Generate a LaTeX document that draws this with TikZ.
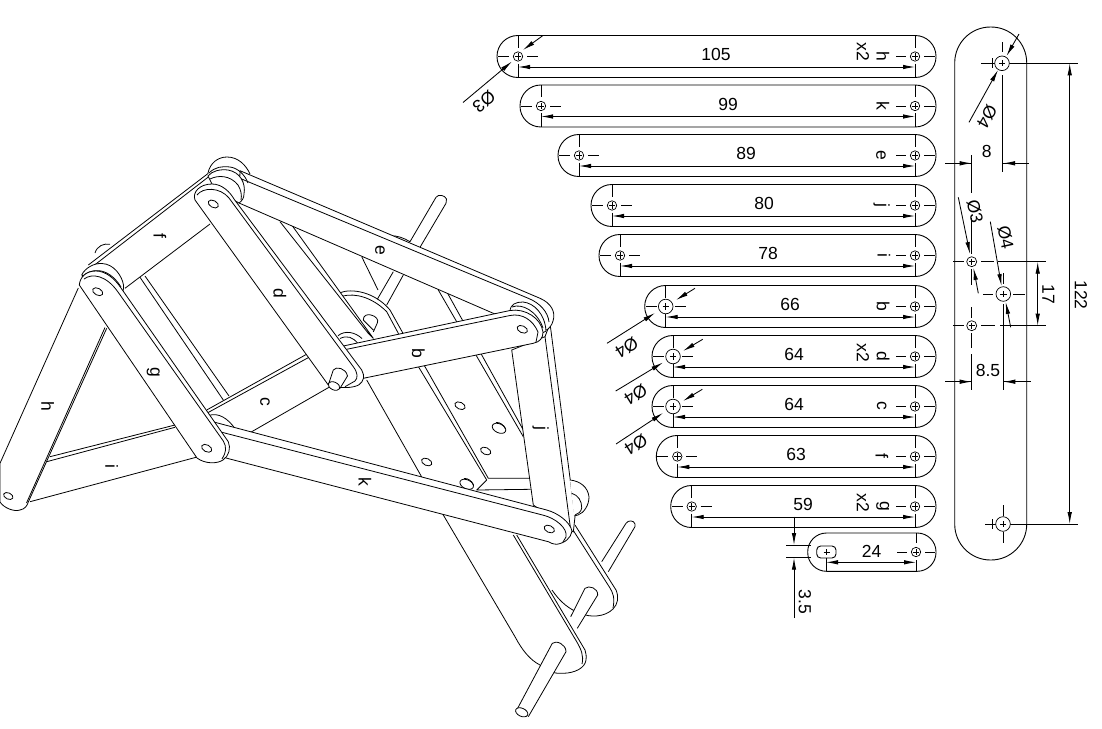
\documentclass[tikz,border=0pt]{standalone}
\usepackage{fontspec}
\setmainfont{Liberation Sans}
\usetikzlibrary{arrows.meta}
\tikzset{
 cad/.style={line width=0.9pt,draw=black,line cap=butt},
 thinl/.style={line width=0.7pt,draw=black},
 iso/.style={line width=0.8pt,draw=black,line join=round},
 bar/.style={iso,fill=white},
 dimline/.style={line width=0.85pt,draw=black,{Latex[length=12pt,width=4.5pt]}-{Latex[length=12pt,width=4.5pt]}},
 lead/.style={line width=0.85pt,draw=black,-{Latex[length=12pt,width=4.5pt]}},
 txt/.style={font=\fontsize{17.5}{17.5}\selectfont,inner sep=0pt,text=black},
 side/.style={txt,rotate=-90},
}
\newcommand{\hol}[3]{%
 \draw[thinl,fill=white] (#1,#2) circle (#3);
 \draw[thinl] (#1-3.2,#2) -- (#1+3.2,#2) (#1,#2-3.2) -- (#1,#2+3.2);
}
\newcommand{\eyehole}[4]{%
 \draw[bar,shift={(#1,#2)},rotate=#3] (0,0) ellipse (#4 and #4*0.62);
}
% id, hole x, cy, hole r, dim text, dim text x
\newcommand{\partbar}[6]{%
 \draw[cad,rounded corners=20.8pt] (#2-21,#3-21) rectangle (936,#3+21);
 \draw[cad] (#2,#3-21) -- (#2,#3-9) (#2,#3+7) -- (#2,#3+21);
 \draw[cad] (#2-20,#3) -- (#2-9,#3) (#2+9,#3) -- (#2+20,#3);
 \draw[cad] (915,#3-21) -- (915,#3-9) (915,#3+7) -- (915,#3+21);
 \draw[cad] (915-19,#3) -- (915-9,#3) (915+9,#3) -- (915+20,#3);
 \hol{#2}{#3}{#4}
 \hol{915}{#3}{4.7}
 \draw[dimline] (#2,#3+10.5) -- (915,#3+10.5);
 \node[txt] (dim#1) at (#6,#3-2) {#5};
}
\begin{document}
\begin{tikzpicture}[x=1pt,y=-1pt]
\path[use as bounding box,fill=white] (0,0) rectangle (1102,728);
% ---------- assembly: rods and lower plates
\draw[iso] (601.7,561.7) -- (626,523.3) .. controls (628,520) and (634,520) .. (635,524) .. controls (635.5,526) and (635,527) .. (634,528.3) -- (608.3,571.7);
\draw[bar] (575,525) -- (616,590) .. controls (619,597) and (618,604) .. (613,609) .. controls (605,617) and (590,618) .. (580,613) .. controls (570,610) and (560,602) .. (552,590);
\draw[iso] (573,530) -- (610,588) .. controls (613,593) and (615,598) .. (613,608);
\draw[bar] (570.7,616.7) -- (585,588.3) .. controls (589,585) and (598,588) .. (597.7,595) -- (577.3,628.3);
\draw[bar] (443.3,515) -- (515,636.7) .. controls (522,650) and (530,660) .. (540,665) .. controls (548,672) and (556,674) .. (563.3,673.3) .. controls (575,673) and (585,668) .. (586,660) .. controls (586.5,656) and (586,653) .. (585,650) -- (516.7,535);
\draw[iso] (513.3,535) -- (576.7,641.7) .. controls (581,649) and (584,656) .. (582,664);
\draw[bar] (516.7,710) -- (552.3,643.3) .. controls (556,640) and (566,644) .. (566,651.7) -- (528.3,716.7);
\eyehole{521.7}{712.3}{-25}{6.5}
% ---------- assembly: central channel
\draw[iso] (366.7,380) -- (443.3,515);
\draw[iso] (398.3,333.3) -- (486.7,480) -- (476.7,490) -- (530.7,489.3);
\draw[iso] (403,333.3) -- (425,366.7) -- (488.3,478.3) -- (530,478.3);
\draw[iso] (438.3,290) -- (523.3,436.7);
\draw[iso] (446.7,291.7) -- (523.3,430);
\draw[iso] (361.7,256.7) -- (378,290);
\draw[iso] (377.3,299.3) -- (393.3,271.7);
\draw[iso] (386.7,305) -- (403.3,275);
\draw[iso] (410,241.7) -- (436,197.3) .. controls (438,194) and (445,195) .. (446.5,199) .. controls (447,201) and (446.5,202) .. (446,203.3) -- (420,247.3);
\draw[iso] (390,236) .. controls (396,235) and (404,238) .. (410,241.7);
\draw[iso] (340,292.7) .. controls (352,288) and (375,292) .. (390,310) -- (403,333.3);
\draw[iso] (343,296) .. controls (355,293) and (372,297) .. (386.7,311.7) -- (398.3,333.3);
\draw[bar] (373.3,330) -- (363.3,320) .. controls (363,315) and (368,314) .. (371,315) .. controls (376,316) and (379,320) .. (377.3,323) -- (373.3,332);
\draw[bar] (338,335.7) .. controls (345,330) and (355,332) .. (362,338.5);
\draw[iso] (340,338.5) .. controls (347,335) and (353,337) .. (358.3,344);
\draw[bar] (280,221.7) -- (368,333) -- (373.3,338.3) -- (291.7,225);
\eyehole{460}{405.7}{-25}{5.5}
\eyehole{485.7}{451}{-25}{5.5}
\eyehole{499}{428.3}{-25}{7.2}
\draw[iso] (496,422.5) .. controls (500,422) and (504,425) .. (505.5,429);
\eyehole{426.7}{462}{-25}{5.5}
\eyehole{466.7}{484.3}{-25}{7.2}
\draw[iso] (464,478.5) .. controls (468,478) and (472,481) .. (473.5,485);
% ---------- assembly: open lines of i, c, f and the pair behind g
\draw[iso] (50,456.7) -- (175,425);
\draw[iso] (46.7,461.7) -- (175,427.3);
\draw[iso] (30,501.7) -- (198.3,456.7);
\draw[iso] (206.7,410) -- (308.3,353.3);
\draw[iso] (206.7,413.3) -- (310,356.7);
\draw[iso] (250,432.7) -- (330,386.7);
\draw[iso] (125,288.3) -- (210,224);
\draw[iso] (140,277.3) -- (223.3,400);
\draw[iso] (145,276) -- (229,396);
\draw[iso] (95,253) .. controls (97,246) and (104,243) .. (110,244.3);
\draw[iso] (88.3,265) -- (208.3,173.3);
\draw[iso] (92,267) -- (210,175.7);
% ---------- assembly: j
\draw[bar] (533.3,505) -- (511.7,350) -- (545,336.7) -- (550,323.3) -- (575,516.7) -- (573.3,532) -- cycle;
\draw[iso] (545,336.7) -- (570.7,530);
% disc behind k and j
\draw[bar] (570,480) .. controls (580,481) and (588,487) .. (589,497) .. controls (589,505) and (584,513) .. (578,515) -- (574,516);
\draw[iso] (571.7,493.3) .. controls (578,495) and (582,501) .. (581.7,508) .. controls (581,512) and (578,514) .. (575,515);
% ---------- assembly: top back disc and e
\draw[bar] (208,173) .. controls (210,163) and (218,157) .. (227,157) .. controls (238,157) and (246,165) .. (250,174);
\draw[bar] (240,170.7) -- (540,298.3) .. controls (551,303) and (556,312) .. (553,321) .. controls (552,325) and (550,327) .. (547,330) -- (493.3,313.3) -- (239,203) -- cycle;
\draw[iso] (232,175) -- (528.3,298.3) .. controls (540,303) and (548,312) .. (549,322);
\node[side] (le) at (380,250.7) {e};
% ---------- right pivot discs
\draw[bar] (510,312) .. controls (510,304) and (516,302) .. (523,302) .. controls (534,303) and (545,314) .. (546,331) -- (530,340) -- cycle;
\draw[iso] (512,307) .. controls (522,303) and (537,311) .. (543,328);
% ---------- k
\draw[bar] (208.3,415.7) .. controls (218,412) and (228,418) .. (236,430);
\draw[bar] (210,421) -- (546.7,510) .. controls (558,513) and (570,522) .. (572,531) .. controls (571,538) and (565,543) .. (556.7,544.3) .. controls (553,544) and (550,543) .. (548.3,541.7) -- (226,458) -- cycle;
\draw[iso] (215,430.5) -- (543.3,515.2) .. controls (555,518) and (568,528) .. (566,537) -- (563,542);
\eyehole{549.3}{529}{-25}{5.5}
% ---------- b
\draw[bar] (343.3,346) -- (510,310.5) .. controls (525,308) and (541,318) .. (543,332) .. controls (543,338) and (540,342) .. (533.3,343.3) -- (363.3,378.3) -- cycle;
\draw[iso] (346.7,349.3) -- (510,315.5) .. controls (522,313) and (533,320) .. (538,332) -- (536,342);
\eyehole{522.3}{329.3}{-25}{5.5}
% ---------- top pivot discs and d
\draw[bar] (208,176) .. controls (212,171) and (220,169) .. (228,170) .. controls (240,172) and (246,183) .. (244,194) .. controls (244,198) and (242,201) .. (239,203) -- (215,190) -- cycle;
\draw[iso] (209,173) .. controls (215,167) and (222,166) .. (230,167) .. controls (238,168) and (245,175) .. (248,183);
\draw[iso] (210,179) .. controls (218,175) and (230,175) .. (238,185) .. controls (241,190) and (242,195) .. (241,200);
\draw[bar] (195,200) .. controls (192,192) and (200,184) .. (212,184) .. controls (222,184) and (230,192) .. (234,199) -- (361.7,370) .. controls (365,376) and (364,381) .. (359,384.7) .. controls (354,388) and (340,389) .. (328.3,385) -- cycle;
\draw[iso] (197,195) .. controls (203,187) and (220,187) .. (229,198) -- (353.3,366.7) .. controls (358,373) and (358,378) .. (355,381) -- (345,386.7);
\eyehole{213.3}{204}{-28}{5.5}
\draw[bar] (328.3,385) -- (333.3,370) .. controls (336,366) and (346,368) .. (347.5,376) -- (340,388.3);
\eyehole{334}{386}{-25}{6.2}
% ---------- h, left pivot discs and g
\draw[bar] (78.3,288) -- (0,463.3) -- (0,502) .. controls (4,508) and (14,512) .. (20,510) .. controls (25,509) and (27,506) .. (28.3,502) -- (106.7,328.3);
\draw[iso] (105,327.5) -- (26.5,503);
\eyehole{8.3}{496}{-25}{5}
\draw[bar] (81.7,275) .. controls (85,268) and (94,263) .. (102,263.5) .. controls (114,264) and (122,276) .. (123.5,285) .. controls (124,289) and (123,291) .. (121.7,293.3) -- (100,285) -- cycle;
\draw[iso] (82,277) .. controls (90,268) and (108,266) .. (121,287);
\draw[bar] (79.3,285) .. controls (80,277) and (86,271) .. (96,271) .. controls (106,271) and (115,279) .. (121,288) -- (228.3,441.7) .. controls (231,448) and (229,456) .. (223,460) .. controls (217,464) and (205,464) .. (197,458) -- cycle;
\draw[iso] (84,279) .. controls (92,273) and (106,275) .. (118,292) -- (223.3,441) .. controls (227,447) and (226,453) .. (222,459);
\eyehole{97.7}{291.7}{-28}{5.5}
\eyehole{206.7}{448.3}{-28}{5.5}
% ---------- assembly labels
\node[side] (ld) at (280,293.3) {d};
\node[side] (lf) at (160,236) {f};
\node[side] (lg) at (153.3,372.7) {g};
\node[side] (lh) at (47.7,406.7) {h};
\node[side] (li) at (111.7,466) {i};
\node[side] (lc) at (265,401.7) {c};
\node[side] (lb) at (418.3,353.3) {b};
\node[side] (lj) at (540.7,428.3) {j};
\node[side] (lk) at (365,482.3) {k};
% ---------- parts list
\partbar{h}{518}{56.5}{4.7}{105}{716}
\partbar{k}{541}{106}{4.7}{99}{728}
\partbar{e}{579}{155.5}{4.7}{89}{746}
\partbar{j}{612}{205.5}{4.7}{80}{764}
\partbar{i}{620}{255.5}{4.7}{78}{768}
\partbar{b}{665.7}{306.5}{7.3}{66}{790}
\partbar{d}{673}{356.5}{7.3}{64}{794}
\partbar{c}{673}{406.5}{7.3}{64}{794}
\partbar{f}{677.3}{456.5}{4.7}{63}{796}
\partbar{g}{691.7}{506.5}{4.7}{59}{803}
\node[side] (ph) at (883,56) {h};
\node[side] (xh) at (863,52) {x2};
\node[side] (pk) at (883,106) {k};
\node[side] (pe) at (881,155) {e};
\node[side] (pj) at (881.7,205) {j};
\node[side] (pi) at (884,255) {i};
\node[side] (pb) at (883,306.5) {b};
\node[side] (pd) at (883,356.5) {d};
\node[side] (xd) at (863,353) {x2};
\node[side] (pc) at (881.7,406) {c};
\node[side] (pf) at (882,456) {f};
\node[side] (pg) at (882.7,506.5) {g};
\node[side] (xg) at (863,503) {x2};
% small part
\draw[cad,rounded corners=18.8pt] (807.7,533) rectangle (936,571.3);
\draw[cad,rounded corners=4pt] (816.7,546) rectangle (836,558);
\draw[thinl] (823.5,552) -- (829.5,552) (826.5,549) -- (826.5,555);
\draw[cad] (826,557.7) -- (826,571.3);
\draw[cad] (916,533) -- (916,543) (916,560) -- (916,571.3);
\draw[cad] (897,552) -- (907,552) (925,552) -- (935,552);
\hol{916}{552}{4.7}
\draw[dimline] (826,562.3) -- (916,562.3);
\node[txt] (d24) at (871.7,551.5) {24};
\draw[cad] (786,545) -- (811,545) (786,557.7) -- (811,557.7);
\coordinate (t35a) at (794,516.7);
\coordinate (h35a) at (794,545);
\coordinate (t35b) at (794,618);
\coordinate (h35b) at (794,557.7);
\draw[lead] (t35a) -- (h35a);
\draw[lead] (t35b) -- (h35b);
\node[side] (d35) at (805,601.7) {3.5};
% leaders on the parts
\draw[lead] (463,102.5) -- (512,61.5);
\draw[lead] (542.7,35.7) -- (523,50);
\node[txt,rotate=220] (o3a) at (484,101.7) {Ø3};
\draw[lead] (607,343.3) -- (655,313);
\draw[lead] (695,288.3) -- (676,300);
\node[txt,rotate=212] (o4a) at (626.7,348) {Ø4};
\draw[lead] (615.7,391) -- (663,362.5);
\draw[lead] (702.7,339.3) -- (683,351);
\node[txt,rotate=212] (o4b) at (635.7,395) {Ø4};
\draw[lead] (616,444) -- (663,413);
\draw[lead] (702.3,389.3) -- (683,401);
\node[txt,rotate=212] (o4c) at (636,445) {Ø4};
% ---------- right side view
\draw[cad,rounded corners=35.8pt] (954.7,27) rectangle (1026.7,560);
\draw[cad] (1002,42) -- (1002,52) (1002,75) -- (1002,91);
\draw[cad] (981,63.3) -- (1077.7,63.3);
\draw[cad] (992,58) -- (992,68);
\draw[thinl,fill=white] (1002,63.3) circle (7.3);
\draw[thinl] (999,63.3) -- (1005,63.3) (1002,60.3) -- (1002,66.3);
\draw[cad] (985,524) -- (1077.7,524);
\draw[cad] (1003,505) -- (1003,516) (1003,532) -- (1003,543);
\draw[cad] (992,519) -- (992,529);
\draw[thinl,fill=white] (1003,524) circle (7.3);
\draw[thinl] (1000,524) -- (1006,524) (1003,521) -- (1003,527);
\draw[dimline] (1069.7,63.3) -- (1069.7,524);
\node[side] (d122) at (1081,295) {122};
% centre lines
\draw[cad] (971.7,155) -- (971.7,193) (971.7,218) -- (971.7,254) (971.7,269) -- (971.7,285) (971.7,307) -- (971.7,318) (971.7,333) -- (971.7,348) (971.7,354) -- (971.7,390);
\draw[cad] (953,261.7) -- (964,261.7) (981,261.7) -- (994,261.7) (998,261.7) -- (1046,261.7);
\draw[cad] (953,325.7) -- (964,325.7) (981,325.7) -- (995,325.7) (1000,325.7) -- (1046,325.7);
\draw[cad] (1003.3,273) -- (1003.3,284) (1003.3,304) -- (1003.3,390);
\draw[cad] (983,294) -- (993,294) (1013,294) -- (1025,294);
\draw[cad] (1002,91) -- (1002,171.7);
\hol{971.7}{261.7}{5}
\hol{971.7}{325.7}{5}
\hol{1003.3}{294}{7.3}
% dimensions of the side view
\draw[cad] (945,163.3) -- (971.7,163.3) (1003,163.3) -- (1029,163.3);
\draw[lead] (955,163.3) -- (971.7,163.3);
\draw[lead] (1019,163.3) -- (1003,163.3);
\node[txt] (d8) at (986.7,151.7) {8};
\draw[cad] (945,381.7) -- (971.7,381.7) (1003.3,381.7) -- (1030.7,381.7);
\draw[lead] (955,381.7) -- (971.7,381.7);
\draw[lead] (1020,381.7) -- (1003.3,381.7);
\node[txt] (d85) at (988,370.7) {8.5};
\draw[dimline] (1037.7,261.7) -- (1037.7,325.7);
\node[side] (d17) at (1048.3,294) {17};
\draw[lead] (958.3,197.3) -- (970,254);
\draw[lead] (978.3,293.3) -- (973.5,268);
\node[txt,rotate=-78] (o3r) at (975,211.7) {Ø3};
\draw[lead] (990.3,221.7) -- (1001.5,286);
\draw[lead] (1010.7,327.3) -- (1005.7,302);
\node[txt,rotate=-78] (o4r) at (1005.7,237.3) {Ø4};
\draw[lead] (969,122.3) -- (998,70);
\draw[lead] (1019,34) -- (1006.5,56);
\node[txt,rotate=240] (o4t) at (987,117) {Ø4};
\end{tikzpicture}
\end{document}
